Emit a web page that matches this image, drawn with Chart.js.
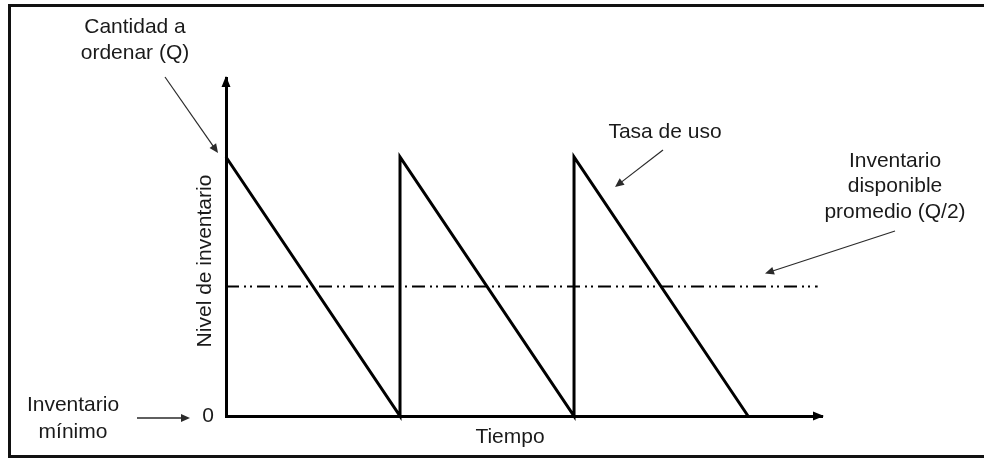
<!DOCTYPE html>
<html>
<head>
<meta charset="utf-8">
<script src="https://cdn.jsdelivr.net/npm/chart.js@4/dist/chart.umd.min.js"></script>
<style>
  html, body { margin: 0; padding: 0; background: #fff; }
  #wrap { width: 984px; height: 460px; position: relative; }
</style>
</head>
<body>
<div id="wrap"><canvas id="myChart" width="984" height="460"></canvas></div>
<script>
// data: sawtooth inventory model, Q = 10
var tiempo = [0, 1, 1, 2, 2, 3];
var nivel = [10, 0, 10, 0, 10, 0];
var promedioX = [0, 3.4];
var promedioY = [5, 5];
var yTicks = [0];
var xMax = 3.425;
var yMax = 13.05;

var font = "'Liberation Sans', Arial, sans-serif";
var ink = "#1a1a1a";

function toPoints(xs, ys) {
  var pts = [];
  for (var i = 0; i < xs.length; i++) pts.push({ x: xs[i], y: ys[i] });
  return pts;
}

function arrow(ctx, x1, y1, x2, y2, w) {
  var ang = Math.atan2(y2 - y1, x2 - x1);
  var len = 9, half = 4;
  ctx.save();
  ctx.strokeStyle = "#2a2a2a";
  ctx.fillStyle = "#2a2a2a";
  ctx.lineWidth = w || 1.2;
  ctx.beginPath();
  ctx.moveTo(x1, y1);
  ctx.lineTo(x2 - Math.cos(ang) * len * 0.8, y2 - Math.sin(ang) * len * 0.8);
  ctx.stroke();
  ctx.beginPath();
  ctx.moveTo(x2, y2);
  ctx.lineTo(x2 - Math.cos(ang) * len - Math.sin(ang) * half, y2 - Math.sin(ang) * len + Math.cos(ang) * half);
  ctx.lineTo(x2 - Math.cos(ang) * len + Math.sin(ang) * half, y2 - Math.sin(ang) * len - Math.cos(ang) * half);
  ctx.closePath();
  ctx.fill();
  ctx.restore();
}

function lines(ctx, arr, cx, cy, step) {
  for (var i = 0; i < arr.length; i++) ctx.fillText(arr[i], cx, cy + i * step);
}

// frame, axis arrowheads, labels and pointer arrows
var decor = {
  id: "decor",
  beforeDraw: function (chart) {
    var ctx = chart.ctx;
    ctx.save();
    ctx.fillStyle = "#fff";
    ctx.fillRect(0, 0, chart.width, chart.height);
    ctx.strokeStyle = "#111";
    ctx.lineWidth = 3;
    ctx.strokeRect(9.5, 5.5, 1000, 451);
    ctx.restore();
  },
  afterDraw: function (chart) {
    var ctx = chart.ctx;
    var a = chart.chartArea;
    var xs = chart.scales.x, ys = chart.scales.y;
    ctx.save();
    // axis arrowheads
    ctx.fillStyle = "#000";
    ctx.beginPath();
    ctx.moveTo(a.left, a.top - 2);
    ctx.lineTo(a.left - 4.5, a.top + 9);
    ctx.lineTo(a.left + 4.5, a.top + 9);
    ctx.closePath();
    ctx.fill();
    ctx.beginPath();
    ctx.moveTo(a.right + 2, a.bottom);
    ctx.lineTo(a.right - 9, a.bottom - 4.5);
    ctx.lineTo(a.right - 9, a.bottom + 4.5);
    ctx.closePath();
    ctx.fill();

    // text
    ctx.fillStyle = ink;
    ctx.font = "21px " + font;
    ctx.textAlign = "center";
    ctx.textBaseline = "middle";
    lines(ctx, ["Cantidad a", "ordenar (Q)"], 135, 27, 26);
    lines(ctx, ["Tasa de uso"], 665, 132, 26);
    lines(ctx, ["Inventario", "disponible", "promedio (Q/2)"], 895, 161, 25.5);
    lines(ctx, ["Inventario", "mínimo"], 73, 405, 27);
    ctx.fillText("Tiempo", 510, 437);
    ctx.save();
    ctx.translate(205, 261);
    ctx.rotate(-Math.PI / 2);
    ctx.fillText("Nivel de inventario", 0, 0);
    ctx.restore();

    // pointers
    arrow(ctx, 165, 77, xs.getPixelForValue(0) - 8, ys.getPixelForValue(10) - 4);
    arrow(ctx, 663, 150, 615, 187);
    arrow(ctx, 895, 231, 765, ys.getPixelForValue(5) - 13);
    arrow(ctx, 137, 418, 190, 418, 1.5);
    ctx.restore();
  },
};

var chart = new Chart("myChart", {
  type: "scatter",
  data: {
    datasets: [
      {
        label: "Nivel",
        data: toPoints(tiempo, nivel),
        showLine: true,
        borderColor: "#000",
        borderWidth: 3,
        pointRadius: 0,
        borderJoinStyle: "miter",
        clip: 6,
      },
      {
        label: "Promedio",
        data: toPoints(promedioX, promedioY),
        showLine: true,
        borderColor: "#000",
        borderWidth: 2,
        borderDash: [13, 5, 2, 4, 2, 5],
        pointRadius: 0,
        clip: 6,
      },
    ],
  },
  options: {
    responsive: false,
    animation: false,
    layout: { padding: { left: 0, top: 78, right: 162, bottom: 44 } },
    plugins: { legend: { display: false }, tooltip: { enabled: false } },
    scales: {
      x: {
        type: "linear",
        min: 0,
        max: xMax,
        grid: { display: false, drawTicks: false },
        border: { display: true, color: "#000", width: 3 },
        ticks: { display: false },
        afterFit: function (s) { s.height = 0; },
      },
      y: {
        type: "linear",
        min: 0,
        max: yMax,
        grid: { display: false, drawTicks: false },
        border: { display: true, color: "#000", width: 3 },
        afterBuildTicks: function (s) {
          s.ticks = yTicks.map(function (v) { return { value: v }; });
        },
        ticks: {
          padding: 12,
          color: ink,
          font: { family: font, size: 21 },
        },
        afterFit: function (s) { s.width = 226; },
      },
    },
  },
  plugins: [decor],
});
</script>
</body>
</html>
